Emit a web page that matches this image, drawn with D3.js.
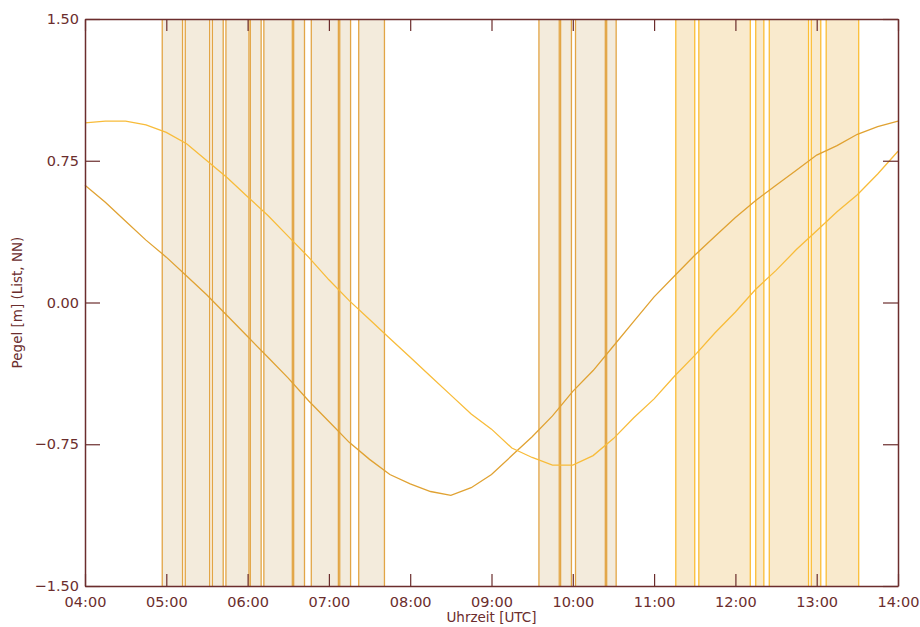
<!DOCTYPE html>
<html>
<head>
<meta charset="utf-8">
<script src="https://cdn.jsdelivr.net/npm/d3@7"></script>
<style>
  body { margin: 0; background: #fff; }
  text { font-family: "DejaVu Sans", sans-serif; fill: #6b2d2d; }
</style>
</head>
<body>
<svg id="chart" width="920" height="627"></svg>
<script>
// time stamps (UTC), every 15 minutes
const times = ["04:00","04:15","04:30","04:45","05:00","05:15","05:30","05:45",
  "06:00","06:15","06:30","06:45","07:00","07:15","07:30","07:45",
  "08:00","08:15","08:30","08:45","09:00","09:15","09:30","09:45",
  "10:00","10:15","10:30","10:45","11:00","11:15","11:30","11:45",
  "12:00","12:15","12:30","12:45","13:00","13:15","13:30","13:45","14:00"];

// water level, darker line
const levelA = [0.62,0.53,0.43,0.33,0.24,0.14,0.04,-0.07,
  -0.18,-0.29,-0.40,-0.52,-0.63,-0.74,-0.83,-0.91,
  -0.96,-1.00,-1.02,-0.98,-0.91,-0.81,-0.71,-0.60,
  -0.47,-0.36,-0.23,-0.10,0.03,0.14,0.25,0.35,
  0.45,0.54,0.62,0.70,0.78,0.83,0.89,0.93,0.96];

// water level, yellow line
const levelB = [0.95,0.96,0.96,0.94,0.90,0.84,0.75,0.66,
  0.56,0.46,0.35,0.24,0.12,0.01,-0.09,-0.19,
  -0.29,-0.39,-0.49,-0.59,-0.67,-0.77,-0.82,-0.86,
  -0.86,-0.81,-0.72,-0.61,-0.51,-0.39,-0.28,-0.16,
  -0.05,0.07,0.17,0.28,0.38,0.48,0.57,0.68,0.80];

// shaded periods
const bandsBrown = [["04:57","05:12"],["05:14","05:32"],["05:34","05:42"],["05:44","06:01"],
  ["06:02","06:10"],["06:12","06:33"],["06:34","06:42"],["06:47","07:07"],["07:08","07:16"],
  ["07:22","07:41"],
  ["09:35","09:50"],["09:51","09:59"],["10:02","10:24"],["10:25","10:32"]];
const bandsYellow = [["11:16","11:30"],["11:33","12:11"],["12:15","12:21"],["12:25","12:54"],
  ["12:56","13:03"],["13:07","13:31"]];

const yTicks = [-1.5, -0.75, 0, 0.75, 1.5];

const parse = d3.timeParse("%H:%M");
const svg = d3.select("#chart");
const mLeft = 85, mRight = 898, mTop = 19, mBottom = 586;

const x = d3.scaleTime().domain([parse("04:00"), parse("14:00")]).range([mLeft, mRight]);
const y = d3.scaleLinear().domain([-1.5, 1.5]).range([mBottom, mTop]);

// bands
function drawBands(bands, fill, edge) {
  const g = svg.append("g");
  g.selectAll("rect").data(bands).join("rect")
    .attr("x", d => x(parse(d[0])))
    .attr("width", d => x(parse(d[1])) - x(parse(d[0])))
    .attr("y", mTop).attr("height", mBottom - mTop)
    .attr("fill", fill);
  const edges = bands.flatMap(d => [d[0], d[1]]);
  g.selectAll("line").data(edges).join("line")
    .attr("x1", d => x(parse(d))).attr("x2", d => x(parse(d)))
    .attr("y1", mTop).attr("y2", mBottom)
    .attr("stroke", edge).attr("stroke-width", 1.3);
}
drawBands(bandsBrown, "#f3ebdc", "#e2a545");
drawBands(bandsYellow, "#f9eacd", "#fbbd35");

// lines
const line = d3.line().x(d => x(d.t)).y(d => y(d.v));
const dataA = times.map((t, i) => ({t: parse(t), v: levelA[i]}));
const dataB = times.map((t, i) => ({t: parse(t), v: levelB[i]}));
svg.append("path").datum(dataA).attr("d", line)
  .attr("fill", "none").attr("stroke", "#e0a232").attr("stroke-width", 1.3);
svg.append("path").datum(dataB).attr("d", line)
  .attr("fill", "none").attr("stroke", "#f8bc3a").attr("stroke-width", 1.3);

// axes
const axisColor = "#6b2d2d";
const xAxis = svg.append("g").attr("transform", `translate(0,${mBottom})`)
  .call(d3.axisBottom(x).ticks(d3.timeHour.every(1)).tickFormat(d3.timeFormat("%H:%M"))
    .tickSizeInner(-12).tickSizeOuter(0).tickPadding(8));
const xTop = svg.append("g").attr("transform", `translate(0,${mTop})`)
  .call(d3.axisTop(x).ticks(d3.timeHour.every(1)).tickFormat("")
    .tickSizeInner(-12).tickSizeOuter(0));
const yAxis = svg.append("g").attr("transform", `translate(${mLeft},0)`)
  .call(d3.axisLeft(y).tickValues(yTicks).tickFormat(d3.format(".2f"))
    .tickSizeInner(-15).tickSizeOuter(0).tickPadding(6));
const yRight = svg.append("g").attr("transform", `translate(${mRight},0)`)
  .call(d3.axisRight(y).tickValues(yTicks).tickFormat("")
    .tickSizeInner(-15).tickSizeOuter(0));

[xAxis, xTop, yAxis, yRight].forEach(g => {
  g.selectAll(".domain").attr("stroke", axisColor).attr("stroke-width", 1.5);
  g.selectAll(".tick line").attr("stroke", axisColor).attr("stroke-width", 1.2);
  g.selectAll(".tick text").attr("font-size", 14.5).attr("fill", axisColor)
    .style("font-family", "DejaVu Sans, sans-serif");
});
xAxis.selectAll(".tick text").attr("dy", "0.9em");
yAxis.selectAll(".tick text").attr("dy", "0.32em");

// axis titles
svg.append("text").attr("x", (mLeft + mRight) / 2).attr("y", 622)
  .attr("text-anchor", "middle").attr("font-size", 13.5).text("Uhrzeit [UTC]");
svg.append("text").attr("transform", `translate(22,${(mTop + mBottom) / 2}) rotate(-90)`)
  .attr("text-anchor", "middle").attr("font-size", 13.5).text("Pegel [m] (List, NN)");
</script>
</body>
</html>
